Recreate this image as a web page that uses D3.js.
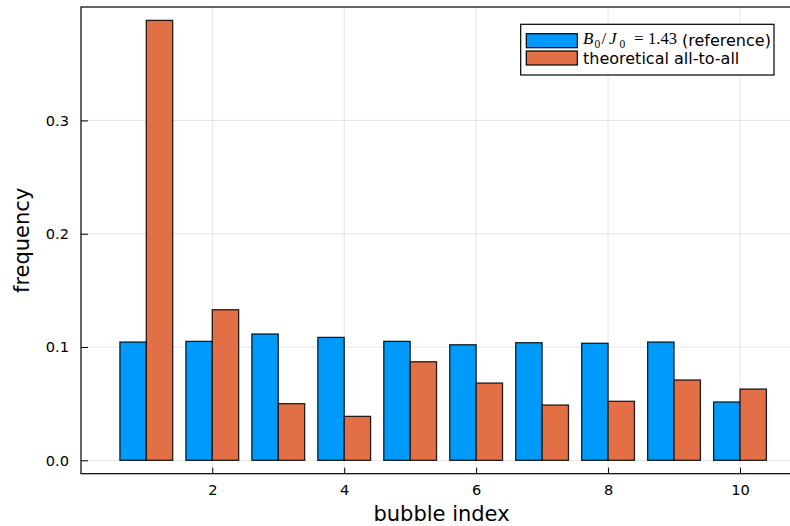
<!DOCTYPE html>
<html lang="en">
<head>
  <meta charset="UTF-8">
  <script src="https://d3js.org/d3.v7.min.js"></script>
  <style>
    body { margin: 0; background: #fff; font-family: 'DejaVu Sans', sans-serif; }
    .grid line { stroke: #000; stroke-opacity: 0.1; stroke-width: 1; }
    .tick text { font-size: 14.6px; fill: #000; }
    rect.bar { stroke: #000; stroke-width: 1.3; stroke-opacity: 0.85; }
  </style>
</head>
<body>
<script>
  // bubble index 1..10
  const bubbles = [1, 2, 3, 4, 5, 6, 7, 8, 9, 10];
  const reference = [0.1044, 0.1050, 0.1115, 0.1085, 0.1050, 0.1020, 0.1038, 0.1033, 0.1044, 0.0515];
  const theoretical = [0.3883, 0.1329, 0.0500, 0.0388, 0.0870, 0.0682, 0.0488, 0.0521, 0.0709, 0.0629];
  const xTicks = [2, 4, 6, 8, 10];
  const yTicks = [0.0, 0.1, 0.2, 0.3];
  const seriesNames = ["reference", "theoretical"];
  const colors = ["#009AFA", "#E26F46"];

  const W = 790, H = 526;
  const pLeft = 81, pRight = 802, pTop = 7, pBottom = 473.7;

  const svg = d3.select("body").append("svg")
    .attr("width", W)
    .attr("height", H);

  const x = d3.scaleLinear().domain([0.010, 10.94]).range([pLeft, pRight]);
  const y = d3.scaleLinear().domain([-0.0118, 0.4001]).range([pBottom, pTop]);

  // grid
  const grid = svg.append("g").attr("class", "grid");
  grid.selectAll(".gx").data(xTicks).enter().append("line")
    .attr("x1", d => x(d)).attr("x2", d => x(d))
    .attr("y1", pTop).attr("y2", pBottom);
  grid.selectAll(".gy").data(yTicks).enter().append("line")
    .attr("x1", pLeft).attr("x2", pRight)
    .attr("y1", d => y(d)).attr("y2", d => y(d));

  // bars: group width 0.8, each series 0.4
  const sub = d3.scaleBand().domain(seriesNames).range([-0.4, 0.4]);
  const rows = bubbles.map((b, i) => ({ b, vals: [reference[i], theoretical[i]] }));

  seriesNames.forEach((s, k) => {
    svg.append("g").selectAll("rect")
      .data(rows).enter().append("rect")
      .attr("class", "bar")
      .attr("fill", colors[k])
      .attr("x", d => x(d.b + sub(s)))
      .attr("width", d => x(d.b + sub(s) + sub.bandwidth()) - x(d.b + sub(s)))
      .attr("y", d => y(d.vals[k]))
      .attr("height", d => y(0) - y(d.vals[k]));
  });

  // axes (ticks point inwards)
  const xAxis = svg.append("g")
    .attr("transform", `translate(0,${pBottom})`)
    .call(d3.axisBottom(x).tickValues(xTicks).tickSize(-6).tickPadding(11).tickFormat(d3.format("d")));
  const yAxis = svg.append("g")
    .attr("transform", `translate(${pLeft},0)`)
    .call(d3.axisLeft(y).tickValues(yTicks).tickSize(-7).tickPadding(12).tickFormat(d3.format(".1f")));
  [xAxis, yAxis].forEach(a => {
    a.select(".domain").remove();
    a.selectAll(".tick line").attr("stroke", "#000").attr("stroke-width", 1);
    a.selectAll(".tick text").attr("font-family", "'DejaVu Sans', sans-serif").attr("font-size", 14.6);
  });

  // frame
  svg.append("rect")
    .attr("x", pLeft).attr("y", pTop)
    .attr("width", pRight - pLeft).attr("height", pBottom - pTop)
    .attr("fill", "none").attr("stroke", "#000").attr("stroke-width", 1.2);

  // axis labels
  svg.append("text")
    .attr("x", (pLeft + pRight) / 2).attr("y", 521)
    .attr("text-anchor", "middle")
    .attr("font-size", 21).attr("font-family", "'DejaVu Sans', sans-serif")
    .text("bubble index");
  svg.append("text")
    .attr("transform", `translate(29,${(pTop + pBottom) / 2}) rotate(-90)`)
    .attr("text-anchor", "middle")
    .attr("font-size", 21).attr("font-family", "'DejaVu Sans', sans-serif")
    .text("frequency");

  // legend
  const lg = svg.append("g");
  lg.append("rect")
    .attr("x", 520.7).attr("y", 24.3).attr("width", 253.3).attr("height", 50.7)
    .attr("fill", "#fff").attr("stroke", "#000").attr("stroke-width", 1.2);
  const rowsY = [40.7, 58];
  seriesNames.forEach((s, k) => {
    lg.append("rect")
      .attr("x", 526.3).attr("y", rowsY[k] - 7).attr("width", 51).attr("height", 14)
      .attr("fill", colors[k]).attr("stroke", "#000").attr("stroke-width", 1.2);
  });

  // math label B_0/J_0 = 1.43, set piece by piece like a TeX rendering
  const serif = "'Liberation Serif', 'DejaVu Serif', serif";
  const mathParts = [
    { t: "B", x: 583, dy: 0, size: 17, italic: true },
    { t: "0", x: 594.5, dy: 3.5, size: 11.5, italic: false },
    { t: "/", x: 601.5, dy: 0, size: 17, italic: false },
    { t: "J", x: 609, dy: 0, size: 17, italic: true },
    { t: "0", x: 619.5, dy: 3.5, size: 11.5, italic: false },
    { t: "=", x: 634, dy: 0, size: 17, italic: false },
    { t: "1.43", x: 648, dy: 0, size: 16.5, italic: false }
  ];
  mathParts.forEach(p => {
    lg.append("text")
      .attr("x", p.x).attr("y", 44 + p.dy)
      .attr("font-family", serif).attr("font-size", p.size)
      .attr("font-style", p.italic ? "italic" : "normal")
      .text(p.t);
  });
  lg.append("text")
    .attr("x", 682).attr("y", 45.5)
    .attr("font-size", 16).attr("font-family", "'DejaVu Sans', sans-serif")
    .text("(reference)");
  lg.append("text")
    .attr("x", 583).attr("y", 64)
    .attr("font-size", 16).attr("font-family", "'DejaVu Sans', sans-serif")
    .text("theoretical all-to-all");
</script>
</body>
</html>
